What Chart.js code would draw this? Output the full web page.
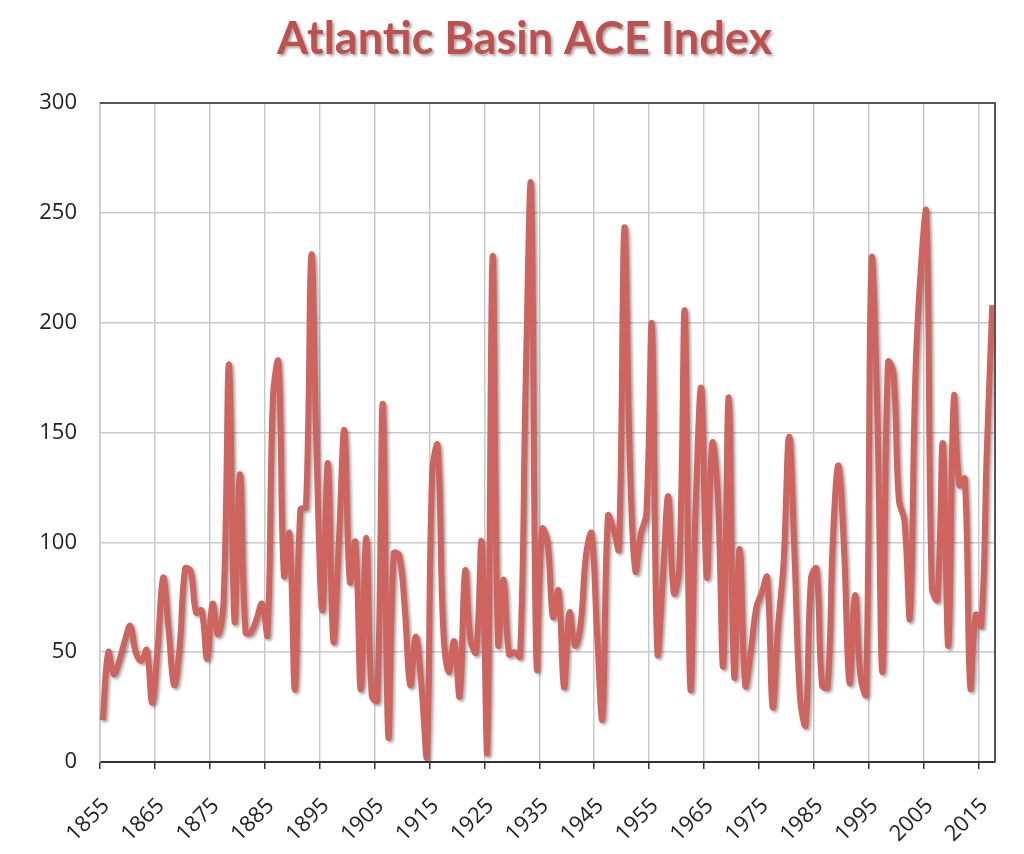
<!DOCTYPE html>
<html lang="en">
<head>
    <meta charset="UTF-8">
    <title>Atlantic Basin ACE Index</title>
    <script src="https://cdn.jsdelivr.net/npm/chart.js"></script>
    <style>
        html, body { margin: 0; padding: 0; background: #ffffff; }
        #wrap { width: 1024px; height: 854px; }
    </style>
</head>
<body>
    <div id="wrap"><canvas id="aceChart" width="1024" height="854"></canvas></div>

    <script>
        // years 1855 .. 2017
        const firstYear = 1855;
        const lastYear = 2017;
        const years = Array.from({ length: lastYear - firstYear + 1 }, (_, i) => firstYear + i);

        // ACE values, one row per decade
        const aceValues = [
            19, 50, 40, 46, 55, 62, 50, 46, 51, 27,        // 1855-1864
            52, 84, 60, 35, 52, 88, 87, 68, 69, 47,        // 1865-1874
            72, 58, 73, 181, 64, 131, 59, 59, 65, 72,      // 1875-1884
            58, 166, 182, 85, 104, 33, 115, 116, 231, 135, // 1885-1894
            69, 136, 55, 100, 151, 82, 100, 33, 102, 30,   // 1895-1904
            28, 163, 12, 95, 94, 70, 35, 57, 36, 2,        // 1905-1914
            132, 144, 61, 41, 55, 30, 87, 55, 50, 100,     // 1915-1924
            4, 230, 54, 83, 49, 50, 48, 170, 262, 44,      // 1925-1934
            106, 100, 66, 78, 34, 68, 53, 62, 94, 104,     // 1935-1944
            60, 20, 112, 106, 97, 243, 137, 87, 104, 113,  // 1945-1954
            199, 50, 84, 121, 77, 88, 205, 34, 118, 170,   // 1955-1964
            84, 145, 122, 44, 166, 39, 97, 35, 50, 70,     // 1965-1974
            77, 84, 25, 62, 91, 148, 93, 29, 17, 84,       // 1975-1984
            88, 35, 34, 103, 135, 97, 36, 76, 39, 31,      // 1985-1994
            228, 166, 41, 182, 177, 119, 110, 66, 176, 225,// 1995-2004
            250, 79, 74, 145, 53, 166, 126, 129, 34, 67,   // 2005-2014
            62, 141, 208                                   // 2015-2017
        ];

        const tickYears = [1855, 1865, 1875, 1885, 1895, 1905, 1915, 1925, 1935, 1945,
                           1955, 1965, 1975, 1985, 1995, 2005, 2015];
        const yTicks = [0, 50, 100, 150, 200, 250, 300];

        const lineColor = 'rgb(207, 99, 93)';
        const titleColor = '#c0504d';
        const gridColor = '#c9c9c9';
        const frameColor = '#555555';

        // drop shadow under the line and the title, plus the dark top/right frame
        const shadowPlugin = {
            id: 'shadows',
            beforeDraw(chart) {
                const tb = chart.titleBlock;
                if (tb && !tb._shadowed) {
                    const orig = tb.draw;
                    tb.draw = function (area) {
                        const ctx = chart.ctx;
                        ctx.save();
                        ctx.translate(27, 0); // centre the title over the plot like the original
                        ctx.shadowColor = 'rgba(0,0,0,0.35)';
                        ctx.shadowOffsetX = 2;
                        ctx.shadowOffsetY = 2;
                        ctx.shadowBlur = 3;
                        orig.call(this, area);
                        ctx.restore();
                    };
                    tb._shadowed = true;
                }
            },
            beforeDatasetsDraw(chart) {
                const ctx = chart.ctx;
                ctx.save();
                ctx.shadowColor = 'rgba(0,0,0,0.35)';
                ctx.shadowOffsetX = 2;
                ctx.shadowOffsetY = 2;
                ctx.shadowBlur = 3;
            },
            afterDatasetsDraw(chart) {
                chart.ctx.restore();
            },
            afterDraw(chart) {
                const { ctx, chartArea } = chart;
                ctx.save();
                ctx.strokeStyle = frameColor;
                ctx.lineWidth = 2;
                ctx.beginPath();
                ctx.moveTo(chartArea.left, chartArea.top);
                ctx.lineTo(chartArea.right, chartArea.top);
                ctx.lineTo(chartArea.right, chartArea.bottom);
                ctx.stroke();
                ctx.restore();
            }
        };

        const ctx = document.getElementById('aceChart').getContext('2d');
        new Chart(ctx, {
            type: 'line',
            data: {
                datasets: [{
                    label: 'ACE',
                    data: years.map((y, i) => ({ x: y, y: aceValues[i] })),
                    borderColor: lineColor,
                    borderWidth: 6,
                    pointRadius: 0,
                    tension: 0.4,
                    fill: false
                }]
            },
            options: {
                responsive: false,
                animation: false,
                layout: { padding: { left: 0, right: 29, top: 0, bottom: 0 } },
                plugins: {
                    legend: { display: false },
                    tooltip: { enabled: false },
                    title: {
                        display: true,
                        text: 'Atlantic Basin ACE Index',
                        color: titleColor,
                        font: { family: 'Lato', size: 45, weight: 'bold' },
                        padding: { top: 12, bottom: 37 }
                    }
                },
                scales: {
                    x: {
                        type: 'linear',
                        min: firstYear - 0.5,
                        max: lastYear + 0.5,
                        afterBuildTicks(scale) {
                            scale.ticks = tickYears.map(v => ({ value: v - 0.5 }));
                        },
                        afterFit(scale) { scale.height = 92; },
                        grid: {
                            color: gridColor,
                            lineWidth: 1.5,
                            tickColor: '#333333',
                            tickLength: 7
                        },
                        border: { color: '#333333', width: 2 },
                        ticks: {
                            autoSkip: false,
                            maxRotation: 45,
                            minRotation: 45,
                            padding: 24,
                            labelOffset: 6,
                            color: '#222222',
                            font: { family: 'Open Sans', size: 22 },
                            callback: (v) => String(Math.round(v + 0.5))
                        }
                    },
                    y: {
                        min: 0,
                        max: 300,
                        afterBuildTicks(scale) {
                            scale.ticks = yTicks.map(v => ({ value: v }));
                        },
                        afterFit(scale) { scale.width = 100; },
                        grid: {
                            color: gridColor,
                            lineWidth: 1.5,
                            drawTicks: false
                        },
                        border: { color: gridColor, width: 1.5 },
                        ticks: {
                            padding: 23,
                            color: '#222222',
                            font: { family: 'Open Sans', size: 22 }
                        }
                    }
                }
            },
            plugins: [shadowPlugin]
        });
    </script>
</body>
</html>
